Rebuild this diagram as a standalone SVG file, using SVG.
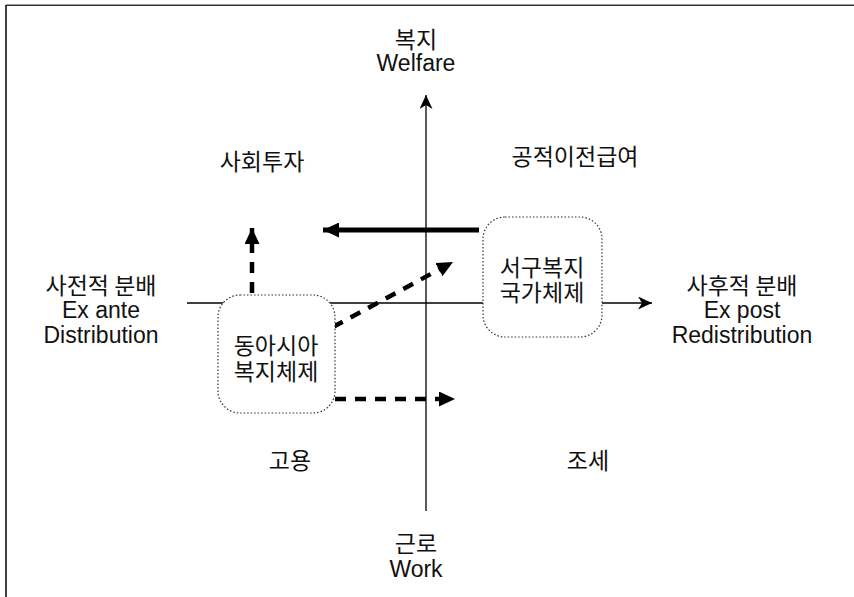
<svg xmlns="http://www.w3.org/2000/svg" width="854" height="597" viewBox="0 0 854 597">
<style>
text{font-family:"Noto Sans CJK KR","Liberation Sans",sans-serif;font-size:23px;fill:#111;text-anchor:middle}
.en{font-family:"Liberation Sans","Noto Sans CJK KR",sans-serif;font-size:23px}
.box{fill:#fff;stroke:#333;stroke-width:1.2;stroke-dasharray:1.5 2}
.thin{stroke:#000;stroke-width:1.3;fill:none}
.dash{stroke:#000;stroke-width:4.5;stroke-dasharray:11 9;fill:none}
</style>
<defs>
<marker id="ah" markerWidth="14" markerHeight="13" refX="14" refY="6.5" orient="auto" markerUnits="userSpaceOnUse"><path d="M0,0 L14,6.5 L0,13 L4,6.5 Z" fill="#000"/></marker>
<marker id="ahb" markerWidth="16" markerHeight="15" refX="16" refY="7.5" orient="auto" markerUnits="userSpaceOnUse"><path d="M0,0 L16,7.5 L0,15 Z" fill="#000"/></marker>
</defs>
<rect width="854" height="597" fill="#fff"/>
<g id="frame">
<line x1="6" y1="4.5" x2="854" y2="4.5" stroke="#999" stroke-width="1"/>
<line x1="6" y1="5.5" x2="854" y2="5.5" stroke="#333" stroke-width="1"/>
<line x1="6" y1="5" x2="6" y2="597" stroke="#000" stroke-width="1.5"/>
</g>
<g id="connectors">
<line class="thin" x1="426" y1="511" x2="426" y2="95" marker-end="url(#ah)"/>
<line class="thin" x1="187" y1="303" x2="652" y2="303" marker-end="url(#ah)"/>
<line x1="479" y1="230" x2="323" y2="230" stroke="#000" stroke-width="5" marker-end="url(#ahb)"/>
<line class="dash" x1="252" y1="293" x2="252" y2="228" marker-end="url(#ahb)"/>
<line class="dash" x1="333" y1="327" x2="453" y2="262" marker-end="url(#ahb)"/>
<line class="dash" x1="335" y1="399" x2="455" y2="399" marker-end="url(#ahb)"/>
</g>
<g id="east-asia">
<rect class="box" x="218" y="295" width="117" height="118" rx="22"/>
<text x="276" y="354">동아시아</text>
<text x="276" y="380">복지체제</text>
</g>
<g id="western">
<rect class="box" x="483" y="217" width="119" height="120" rx="22"/>
<text x="542" y="276">서구복지</text>
<text x="542" y="301">국가체제</text>
</g>
<g id="labels">
<text x="416" y="48">복지</text>
<text class="en" x="416" y="71">Welfare</text>
<text x="262" y="170">사회투자</text>
<text x="575" y="165">공적이전급여</text>
<text x="101" y="294">사전적 분배</text>
<text class="en" x="101" y="318">Ex ante</text>
<text class="en" x="101" y="343">Distribution</text>
<text x="742" y="294">사후적 분배</text>
<text class="en" x="742" y="318">Ex post</text>
<text class="en" x="742" y="343">Redistribution</text>
<text x="290" y="469">고용</text>
<text x="588" y="469">조세</text>
<text x="416" y="552">근로</text>
<text class="en" x="416" y="577">Work</text>
</g>
</svg>
